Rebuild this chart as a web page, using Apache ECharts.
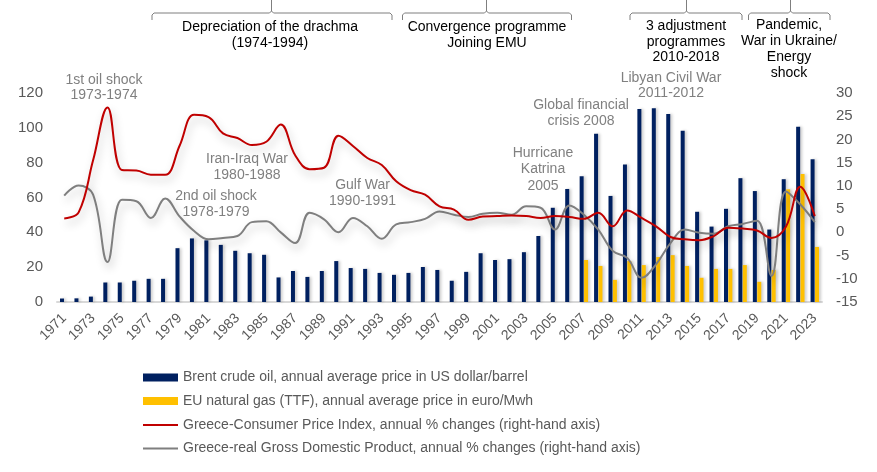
<!DOCTYPE html>
<html><head><meta charset="utf-8">
<script src="https://cdn.jsdelivr.net/npm/echarts@6/dist/echarts.min.js"></script>
<style>html,body{margin:0;padding:0;background:#fff}#c{width:877px;height:472px}</style>
</head><body><div id="c"></div>
<script>
const years = ['1971','1972','1973','1974','1975','1976','1977','1978','1979','1980',
 '1981','1982','1983','1984','1985','1986','1987','1988','1989','1990',
 '1991','1992','1993','1994','1995','1996','1997','1998','1999','2000',
 '2001','2002','2003','2004','2005','2006','2007','2008','2009','2010',
 '2011','2012','2013','2014','2015','2016','2017','2018','2019','2020',
 '2021','2022','2023'];
const brent = [2.0, 2.1, 3.1, 11.2, 11.2, 12.2, 13.3, 13.3, 30.9, 36.5,
 35.4, 32.8, 29.4, 28.0, 27.1, 14.1, 17.8, 14.4, 17.8, 23.5,
 19.5, 19.0, 16.7, 15.6, 16.7, 20.1, 18.4, 12.2, 17.3, 28.0,
 24.1, 24.6, 28.6, 37.9, 54.1, 64.9, 72.2, 96.6, 60.9, 79.0,
 110.8, 111.3, 107.9, 98.3, 51.8, 43.3, 53.5, 71.1, 63.7, 41.6,
 70.5, 100.6, 81.9];
const ttf = [null,null,null,null,null,null,null,null,null,null,
 null,null,null,null,null,null,null,null,null,null,
 null,null,null,null,null,null,null,null,null,null,
 null,null,null,null,null,null, 24.1, 20.7, 12.7, 23.5,
 21.2, 25.8, 26.9, 20.7, 13.9, 19.0, 19.0, 21.2, 11.6, 18.4,
 64.7, 73.5, 31.6];
const cpi = [3.0, 4.3, 15.5, 26.9, 13.4, 13.3, 12.4, 12.4, 18.7, 25.3,
 24.8, 21.3, 20.3, 18.8, 19.5, 23.2, 16.6, 13.6, 13.9, 20.8,
 18.6, 16.0, 14.5, 11.0, 9.1, 8.1, 5.6, 4.9, 2.7, 3.4,
 3.5, 3.6, 3.5, 3.1, 3.5, 3.3, 2.9, 4.2, 1.3, 4.7,
 3.1, 1.3, -1.0, -1.5, -1.7, -0.8, 1.0, 0.8, 0.4, -1.2,
 1.2, 9.8, 3.5];
const gdp = [7.9, 10.1, 8.1, -6.4, 7.0, 6.7, 3.1, 7.3, 3.4, 0.3,
 -1.5, -1.2, -0.8, 2.2, 2.4, 0.0, -2.3, 4.2, 2.8, 0.0,
 3.1, 1.3, -1.4, 1.7, 2.2, 2.9, 4.5, 3.8, 3.3, 4.0,
 4.2, 3.8, 5.6, 5.3, 0.6, 5.8, 3.8, 0.6, -4.0, -5.5,
 -9.8, -6.9, -2.3, 0.6, -0.1, -0.3, 1.3, 1.8, 2.5, -9.4,
 8.8, 6.0, 2.2];
const names = [
 'Brent crude oil, annual average price in US dollar/barrel',
 'EU natural gas (TTF), annual average price in euro/Mwh',
 'Greece-Consumer Price Index, annual % changes (right-hand axis)',
 'Greece-real Gross Domestic Product, annual % changes (right-hand axis)'
];
const FF = 'Arial, "Liberation Sans", sans-serif';
const GREY_TXT = '#808080';

function bracket(x1, xc, x2) {
  const y = 13;
  const st = { stroke: '#7f7f7f', lineWidth: 1, fill: null };
  return [
    { type: 'polyline', shape: { points: [[x1, y + 7], [x1, y + 2], [x1 + 2, y], [xc - 2, y], [xc, y - 2], [xc, 0]] }, style: st },
    { type: 'polyline', shape: { points: [[xc, y - 2], [xc + 2, y], [x2 - 2, y], [x2, y + 2], [x2, y + 7]] }, style: st }
  ];
}
function note(text, x, yFirstCenter, color, lh) {
  return {
    type: 'text', x: x, y: yFirstCenter - lh / 2,
    style: { text: text, textAlign: 'center', textVerticalAlign: 'top',
      fill: color, font: '14px ' + FF, lineHeight: lh }
  };
}

const chart = echarts.init(document.getElementById('c'), null, { renderer: 'canvas' });
const lineShadow = { shadowColor: 'rgba(0,0,0,0.25)', shadowBlur: 8, shadowOffsetX: 2, shadowOffsetY: 5 };
const legendText = { fontSize: 14, color: '#595959', fontFamily: FF, lineHeight: 14 };
chart.setOption({
  animation: false,
  backgroundColor: '#fff',
  grid: { left: 57, right: 55, top: 93, bottom: 170, containLabel: false },
  legend: [
    { orient: 'vertical', left: 143, top: 370.5, padding: 0, itemWidth: 35, itemHeight: 8, itemGap: 9.5,
      icon: 'rect', textStyle: legendText, data: [names[0], names[1]] },
    { orient: 'vertical', left: 143, top: 418, padding: 0, itemWidth: 35, itemHeight: 2, itemGap: 9.5,
      icon: 'rect', textStyle: legendText, data: [names[2], names[3]] }
  ],
  xAxis: {
    type: 'category', data: years,
    axisLine: { lineStyle: { color: '#d9d9d9', width: 2 } },
    axisTick: { show: false },
    axisLabel: { interval: 1, rotate: 45, color: '#595959', fontSize: 14, fontFamily: FF, margin: 14 }
  },
  yAxis: [
    { type: 'value', min: 0, max: 120, interval: 20,
      axisLine: { show: false }, axisTick: { show: false }, splitLine: { show: false },
      axisLabel: { color: '#595959', fontSize: 15, fontFamily: FF, margin: 14 } },
    { type: 'value', min: -15, max: 30, interval: 5, position: 'right',
      axisLine: { show: false }, axisTick: { show: false }, splitLine: { show: false },
      axisLabel: { color: '#595959', fontSize: 15, fontFamily: FF, margin: 14 } }
  ],
  series: [
    { name: names[0], type: 'bar', data: brent, barWidth: 4, barGap: '10%',
      itemStyle: { color: '#002060', shadowColor: 'rgba(0,0,0,0.2)', shadowBlur: 3, shadowOffsetX: 2 } },
    { name: names[1], type: 'bar', data: ttf, barWidth: 4,
      itemStyle: { color: '#FFC000', shadowColor: 'rgba(0,0,0,0.2)', shadowBlur: 3, shadowOffsetX: 2 } },
    { name: names[3], type: 'line', yAxisIndex: 1, data: gdp, smooth: 0.4, symbol: 'none', z: 3,
      itemStyle: { color: '#7f7f7f' },
      lineStyle: Object.assign({ color: '#7f7f7f', width: 2 }, lineShadow) },
    { name: names[2], type: 'line', yAxisIndex: 1, data: cpi, smooth: 0.4, symbol: 'none', z: 4,
      itemStyle: { color: '#C00000' },
      lineStyle: Object.assign({ color: '#C00000', width: 2 }, lineShadow) }
  ],
  graphic: [].concat(
    bracket(152, 271.5, 392),
    bracket(402.5, 486.5, 571.5),
    bracket(630, 686.5, 742),
    bracket(748.5, 790.5, 830),
    [
    note('Depreciation of the drachma\n(1974-1994)', 270, 27, '#000', 16.5),
    note('Convergence programme\nJoining EMU', 487, 27, '#000', 16),
    note('3 adjustment\nprogrammes\n2010-2018', 686, 26, '#000', 15.7),
    note('Pandemic,\nWar in Ukraine/\nEnergy\nshock', 789, 25, '#000', 16),
    note('1st oil shock\n1973-1974', 104, 80, GREY_TXT, 15.5),
    note('2nd oil shock\n1978-1979', 216, 196.5, GREY_TXT, 16),
    note('Iran-Iraq War\n1980-1988', 247, 159, GREY_TXT, 16),
    note('Gulf War\n1990-1991', 362.5, 185, GREY_TXT, 16),
    note('Hurricane\nKatrina\n2005', 543, 152.7, GREY_TXT, 16.6),
    note('Global financial\ncrisis 2008', 581, 105, GREY_TXT, 15.7),
    note('Libyan Civil War\n2011-2012', 671, 78.3, GREY_TXT, 15)
    ])
});
</script></body></html>
